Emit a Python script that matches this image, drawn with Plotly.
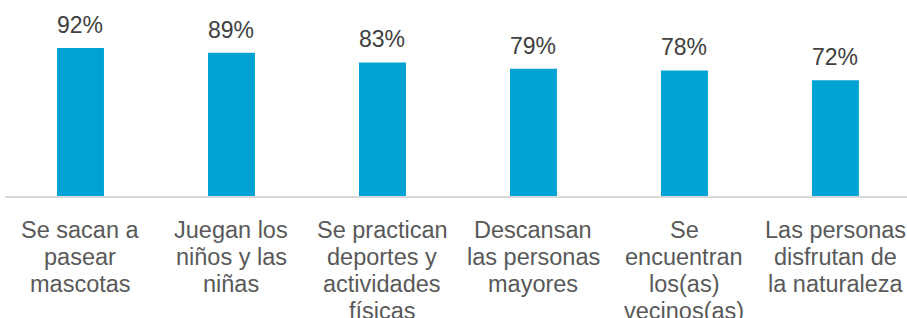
import plotly.graph_objects as go

categories = [
    "Se sacan a pasear mascotas",
    "Juegan los niños y las niñas",
    "Se practican deportes y actividades físicas",
    "Descansan las personas mayores",
    "Se encuentran los(as) vecinos(as)",
    "Las personas disfrutan de la naturaleza",
]
category_lines = [
    ["Se sacan a", "pasear", "mascotas"],
    ["Juegan los", "niños y las", "niñas"],
    ["Se practican", "deportes y", "actividades", "físicas"],
    ["Descansan", "las personas", "mayores"],
    ["Se", "encuentran", "los(as)", "vecinos(as)"],
    ["Las personas", "disfrutan de", "la naturaleza"],
]
values = [92, 89, 83, 79, 78, 72]
labels = [f"{v}%" for v in values]

FONT = "Liberation Sans, Arial"

fig = go.Figure(go.Bar(
    x=categories, y=values,
    marker=dict(color="#00A3D4", line=dict(width=0)),
))

annotations = []
for cat, val, lab in zip(categories, values, labels):
    annotations.append(dict(
        x=cat, y=val, xref="x", yref="y", text=lab, showarrow=False,
        yanchor="bottom", xanchor="center", yshift=8,
        font=dict(family=FONT, size=23, color="#404040"),
    ))
for cat, lines in zip(categories, category_lines):
    for i, line in enumerate(lines):
        annotations.append(dict(
            x=cat, y=0, xref="x", yref="y", text=line, showarrow=False,
            yanchor="middle", xanchor="center", yshift=-33.5 - 27 * i,
            font=dict(family=FONT, size=23.5, color="#595959"),
        ))

fig.update_layout(
    width=907, height=318,
    margin=dict(l=5, r=0, t=0, b=122, autoexpand=False),
    paper_bgcolor="white", plot_bgcolor="white",
    bargap=0.689, showlegend=False,
    annotations=annotations,
    font=dict(family=FONT, size=23, color="#595959"),
)
fig.update_yaxes(range=[0, 121.8], visible=False, showgrid=False, fixedrange=True)
fig.update_xaxes(range=[-0.5, 5.474], showline=True, linecolor="#D9D9D9",
                 linewidth=1.5, ticks="", showticklabels=False, automargin=False,
                 fixedrange=True)
fig.write_html("out.html", config={"displayModeBar": False},
               post_script="document.body.style.margin='0';document.body.style.overflow='hidden';")
